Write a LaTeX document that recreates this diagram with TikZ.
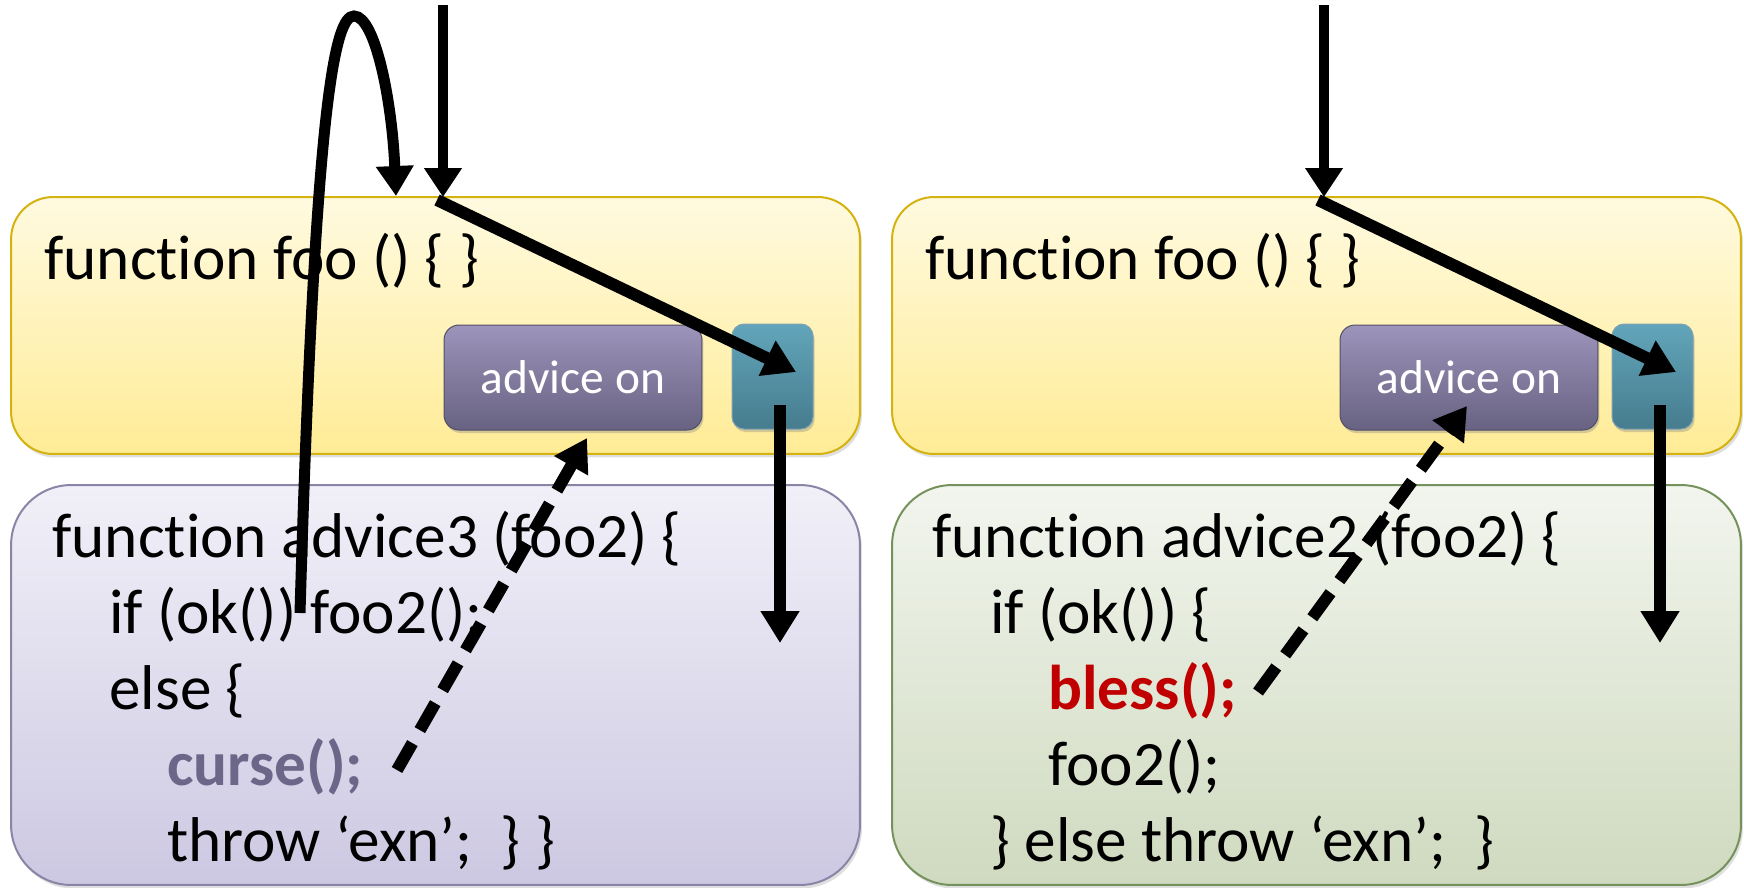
\documentclass[tikz,border=0pt]{standalone}
\usepackage{fontspec}
\setmainfont{Carlito}[Ligatures={NoCommon,NoContextual,NoRare},Contextuals={NoAlternate}]
\usetikzlibrary{arrows.meta,shadows}

% keyword set with separate t and i glyphs
\newcommand\kwfunction{funct\kern0pt ion}

\definecolor{ytop}{RGB}{255,250,224}
\definecolor{ybot}{RGB}{255,236,150}
\definecolor{ybord}{RGB}{212,178,16}
\definecolor{ltop}{RGB}{241,240,248}
\definecolor{lbot}{RGB}{205,200,226}
\definecolor{lbord}{RGB}{138,132,166}
\definecolor{gtop}{RGB}{242,245,238}
\definecolor{gbot}{RGB}{207,218,191}
\definecolor{gbord}{RGB}{118,146,92}
\definecolor{btop}{RGB}{156,148,186}
\definecolor{bbot}{RGB}{104,98,130}
\definecolor{ttop}{RGB}{98,165,186}
\definecolor{tbot}{RGB}{70,124,142}
\definecolor{cursecol}{RGB}{108,103,137}
\definecolor{blesscol}{RGB}{192,0,0}

\begin{document}
\begin{tikzpicture}[x=0.02cm,y=-0.02cm,
  panel/.style={draw, line width=0.04cm, inner sep=0pt, outer sep=0pt,
    minimum width=16.98cm,
    drop shadow={shadow xshift=0.04cm, shadow yshift=-0.07cm, opacity=0.25}},
  foobox/.style={panel, draw=ybord, top color=ytop, bottom color=ybot,
    minimum height=5.14cm, rounded corners=0.84cm},
  advbox/.style={panel, minimum height=8.0cm, rounded corners=1.2cm},
  lavbox/.style={advbox, draw=lbord, top color=ltop, bottom color=lbot},
  grnbox/.style={advbox, draw=gbord, top color=gtop, bottom color=gbot},
  button/.style={draw=bbot!80!black, line width=0.02cm, top color=btop, bottom color=bbot,
    rounded corners=0.3cm, minimum width=5.16cm, minimum height=2.1cm,
    inner sep=0pt, text=white, font=\fontsize{27pt}{32pt}\selectfont,
    drop shadow={shadow xshift=0.03cm, shadow yshift=-0.06cm, opacity=0.35}},
  joinpt/.style={draw=tbot!70!white, line width=0.02cm, top color=ttop, bottom color=tbot,
    rounded corners=0.24cm, minimum width=1.62cm, minimum height=2.1cm, inner sep=0pt,
    drop shadow={shadow xshift=0.03cm, shadow yshift=-0.06cm, opacity=0.35}},
  code/.style={anchor=base west, inner sep=0pt, font=\fontsize{36pt}{43pt}\selectfont},
  entry/.style={line width=0.2cm, -{Triangle[width=0.72cm,length=0.58cm]}},
  flow/.style={line width=0.24cm, -{Triangle[width=0.74cm,length=0.64cm]}},
  callback/.style={flow, dash pattern=on 0.62cm off 0.3cm}
]
\useasboundingbox (0,0) rectangle (1744,887);

% panels
\node[foobox] (Y1) at (435.5,325.5) {};
\node[foobox] (Y2) at (1316.5,325.5) {};
\node[lavbox] (L) at (435.5,685) {};
\node[grnbox] (G) at (1316.5,685) {};

% advice button and join point inside each foo panel
\node[button] (A1) at (573,377.5) {advice on};
\node[joinpt] (T1) at (772.5,376.5) {};
\node[button] (A2) at (1469,377.5) {advice on};
\node[joinpt] (T2) at (1652.5,376.5) {};

% texts of the foo panels
\node[code] (foo1) at (44,279) {\kwfunction{} foo () \{ \}};
\node[code] (foo2) at (925,279) {\kwfunction{} foo () \{ \}};

% advice3
\node[code] (a3l1) at (52,557) {\kwfunction{} advice3 (foo2) \{};
\node[code] (a3l2) at (109,633) {if (ok()) foo2();};
\node[code] (a3l3) at (109,709) {else \{};
\node[code, text=cursecol] (a3l4) at (167,785) {\textbf{curse();}};
\node[code] (a3l5) at (167,861) {throw ‘exn’;\ \ \}\ \}};

% advice2
\node[code] (a2l1) at (932,557) {\kwfunction{} advice2 (foo2) \{};
\node[code] (a2l2) at (990,633) {if (ok()) \{};
\node[code, text=blesscol] (a2l3) at (1048,709) {\textbf{bless();}};
\node[code] (a2l4) at (1048,785) {foo2();};
\node[code] (a2l5) at (990,861) {\} else throw ‘exn’;\ \ \}};

% arrow end points
\coordinate (v1s) at (443,5);    \coordinate (v1e) at (v1s |- Y1.north);
\coordinate (d1s) at (437,200);  \coordinate (d1e) at (796,372);
\coordinate (o1s) at (780,405);  \coordinate (o1e) at (780,643);
\coordinate (c1s) at (300,613);  \coordinate (c1m) at (354,16);
\coordinate (c1e) at (396,196);
\coordinate (x1s) at (397,770);  \coordinate (x1e) at (587,438);

\coordinate (v2s) at (1324,5);   \coordinate (v2e) at (v2s |- Y2.north);
\coordinate (d2s) at (1318,200); \coordinate (d2e) at (1676,372);
\coordinate (o2s) at (1660,405); \coordinate (o2e) at (1660,643);
\coordinate (x2s) at (1258,692); \coordinate (x2e) at (1467,406);

% control flow, left
\draw[entry] (v1s) -- (v1e);
\draw[flow] (d1s) -- (d1e);
\draw[flow] (o1s) -- (o1e);
\draw[line width=0.22cm, -{Triangle[width=0.72cm,length=0.6cm]}]
  (c1s) .. controls (315,100) and (335,16) .. (c1m)
        .. controls (375,16) and (392,100) .. (c1e);
\draw[callback] (x1s) -- (x1e);

% control flow, right
\draw[entry] (v2s) -- (v2e);
\draw[flow] (d2s) -- (d2e);
\draw[flow] (o2s) -- (o2e);
\draw[callback] (x2s) -- (x2e);
\end{tikzpicture}
\end{document}
